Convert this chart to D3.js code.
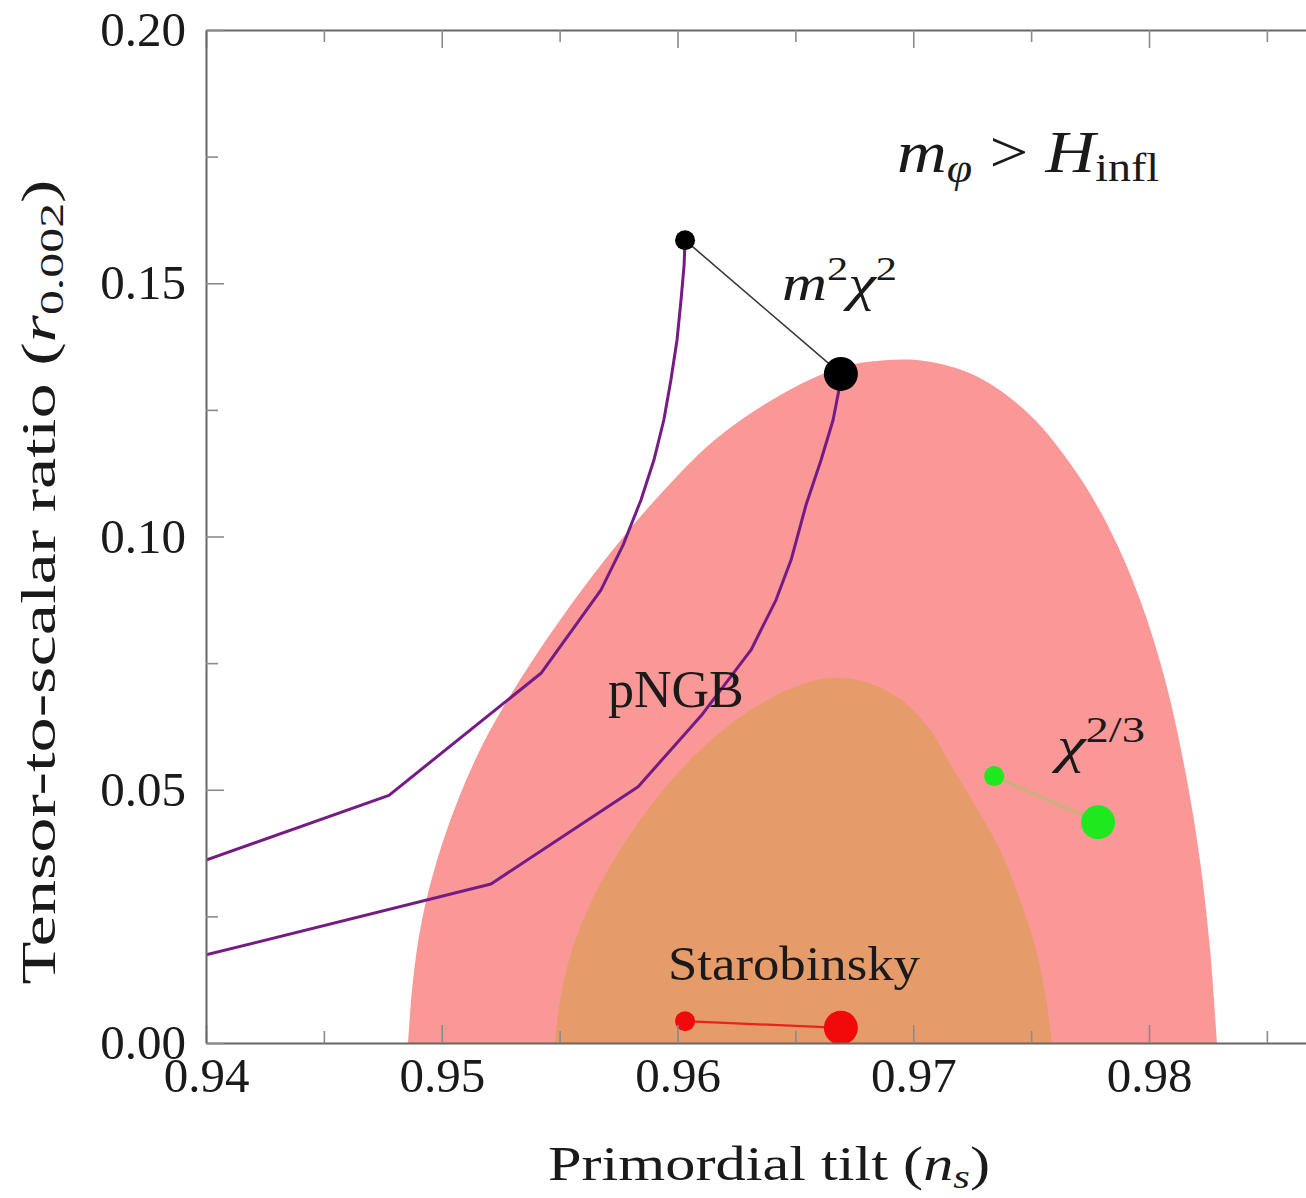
<html>

<head>
  <script src="https://d3js.org/d3.v7.min.js"></script>

  <style>
    body {
      margin: 0;
      background: #fff;
    }

    text {
      font-family: "Liberation Serif", "DejaVu Serif", serif;
      fill: #1a1a1a;
    }

    .axis .domain {
      stroke: #666;
      stroke-width: 2;
    }

    .axis line {
      stroke: #8a8a8a;
      stroke-width: 1.6;
    }

    .axis text {
      font-size: 49px;
    }
  </style>
</head>

<body>
  <svg id="chart" width="1306" height="1198"></svg>

  <script>
    // tick values
    const xTicks = [0.94, 0.95, 0.96, 0.97, 0.98];
    const xMinorTicks = [0.945, 0.955, 0.965, 0.975, 0.985];
    const yTicks = [0, 0.05, 0.10, 0.15, 0.20];
    const yMinorTicks = [0.025, 0.075, 0.125, 0.175];

    // 95% contour (pink), [n_s, r], traced along the boundary from bottom left to bottom right
    const contour95 = [
      [0.94857, 0], [0.94878, 0.0124], [0.94916, 0.0243], [0.94980, 0.0361],
      [0.95069, 0.0480], [0.95183, 0.0598], [0.95332, 0.0717], [0.95502, 0.0835],
      [0.95692, 0.0954], [0.95905, 0.1072], [0.96159, 0.1191], [0.96435, 0.1279],
      [0.96689, 0.1333], [0.96880, 0.1348], [0.97071, 0.1345], [0.97283, 0.1313],
      [0.97495, 0.1240], [0.97686, 0.1131], [0.97835, 0.1013], [0.97962, 0.0875],
      [0.98068, 0.0717], [0.98153, 0.0539], [0.98216, 0.0361], [0.98259, 0.0184],
      [0.98288, 0]
    ];

    // 68% contour (orange)
    const contour68 = [
      [0.95480, 0], [0.95502, 0.0085], [0.95553, 0.0184], [0.95637, 0.0282],
      [0.95756, 0.0381], [0.95905, 0.0480], [0.96095, 0.0578], [0.96308, 0.0657],
      [0.96520, 0.0707], [0.96668, 0.0721], [0.96817, 0.0710], [0.96965, 0.0672],
      [0.97071, 0.0619], [0.97164, 0.0545], [0.97262, 0.0470], [0.97368, 0.0381],
      [0.97453, 0.0282], [0.97521, 0.0184], [0.97564, 0.0085], [0.97589, 0]
    ];

    // pNGB curves
    const pngbLeft = [
      [0.94, 0.0361], [0.94776, 0.0489], [0.95421, 0.0730], [0.95675, 0.0894],
      [0.95769, 0.0983], [0.95845, 0.1072], [0.95900, 0.1151], [0.95942, 0.1230],
      [0.95972, 0.1309], [0.95998, 0.1388], [0.96015, 0.1467], [0.96028, 0.1536],
      [0.96032, 0.1585]
    ];
    const pngbRight = [
      [0.94, 0.0174], [0.95209, 0.0314], [0.95833, 0.0506], [0.96100, 0.0646],
      [0.96312, 0.0776], [0.96418, 0.0875], [0.96482, 0.0954], [0.96545, 0.1062],
      [0.96609, 0.1151], [0.96660, 0.1230], [0.96685, 0.1290], [0.96693, 0.1321]
    ];

    // model predictions: [small e-folds point, large e-folds point]
    const m2chi2 = [[0.96032, 0.1585], [0.96693, 0.1321]];
    const chi23 = [[0.97343, 0.0527], [0.97784, 0.0436]];
    const starobinsky = [[0.96032, 0.0043], [0.96693, 0.0030]];

    const svg = d3.select("svg#chart");
    const margin = { top: 30, left: 206, bottom: 155 };
    const chartHeight = 1198 - margin.top - margin.bottom;

    const xScale = d3.scaleLinear()
      .domain([0.94, 0.99])
      .range([margin.left, margin.left + 5 * 235.75]);

    const yScale = d3.scaleLinear()
      .domain([0, 0.20])
      .range([margin.top + chartHeight, margin.top]);

    svg.append("clipPath").attr("id", "plotClip")
      .append("rect")
      .attr("x", xScale(0.94))
      .attr("y", yScale(0.20))
      .attr("width", xScale(0.99) - xScale(0.94))
      .attr("height", yScale(0) - yScale(0.20));

    let plot = svg.append("g").attr("clip-path", "url(#plotClip)");

    const areaLine = d3.line()
      .x(d => xScale(d[0]))
      .y(d => yScale(d[1]))
      .curve(d3.curveCatmullRom.alpha(0.5));

    plot.append("path")
      .attr("d", areaLine(contour95) + "Z")
      .attr("fill", "#f99896");

    plot.append("path")
      .attr("d", areaLine(contour68) + "Z")
      .attr("fill", "#e69c6a");

    const straight = d3.line()
      .x(d => xScale(d[0]))
      .y(d => yScale(d[1]));

    [pngbLeft, pngbRight].forEach(pts => {
      plot.append("path")
        .attr("d", straight(pts))
        .attr("fill", "none")
        .attr("stroke", "#761b86")
        .attr("stroke-width", 3)
        .attr("stroke-linejoin", "round");
    });

    const models = [
      { pts: m2chi2, dot: "#000", line: "#3a3a3a", width: 1.6 },
      { pts: chi23, dot: "#1ee81e", line: "#c9b27a", width: 3 },
      { pts: starobinsky, dot: "#f20a0a", line: "#e8241e", width: 2.2 }
    ];

    models.forEach(m => {
      plot.append("path")
        .attr("d", straight(m.pts))
        .attr("fill", "none")
        .attr("stroke", m.line)
        .attr("stroke-width", m.width);

      plot.selectAll(null)
        .data(m.pts)
        .enter().append("circle")
        .attr("cx", d => xScale(d[0]))
        .attr("cy", d => yScale(d[1]))
        .attr("r", (d, i) => i === 0 ? 10 : 17)
        .attr("fill", m.dot);
    });

    // axes, ticks pointing inwards
    let bottomAxis = d3.axisBottom(xScale)
      .tickValues(xTicks)
      .tickFormat(d3.format(".2f"))
      .tickSizeInner(-18)
      .tickSizeOuter(0)
      .tickPadding(14);
    svg.append("g")
      .attr("class", "axis")
      .attr("transform", `translate(0,${yScale(0)})`)
      .call(bottomAxis);

    svg.append("g")
      .attr("class", "axis")
      .attr("transform", `translate(0,${yScale(0)})`)
      .call(d3.axisBottom(xScale).tickValues(xMinorTicks).tickFormat("").tickSizeInner(-12).tickSizeOuter(0))
      .select(".domain").remove();

    svg.append("g")
      .attr("class", "axis")
      .attr("transform", `translate(0,${yScale(0.20)})`)
      .call(d3.axisTop(xScale).tickValues(xTicks).tickFormat("").tickSizeInner(-18).tickSizeOuter(0));

    svg.append("g")
      .attr("class", "axis")
      .attr("transform", `translate(0,${yScale(0.20)})`)
      .call(d3.axisTop(xScale).tickValues(xMinorTicks).tickFormat("").tickSizeInner(-12).tickSizeOuter(0))
      .select(".domain").remove();

    let leftAxis = d3.axisLeft(yScale)
      .tickValues(yTicks)
      .tickFormat(d3.format(".2f"))
      .tickSizeInner(-18)
      .tickSizeOuter(0)
      .tickPadding(20);
    svg.append("g")
      .attr("class", "axis")
      .attr("transform", `translate(${xScale(0.94)},0)`)
      .call(leftAxis);

    svg.append("g")
      .attr("class", "axis")
      .attr("transform", `translate(${xScale(0.94)},0)`)
      .call(d3.axisLeft(yScale).tickValues(yMinorTicks).tickFormat("").tickSizeInner(-12).tickSizeOuter(0))
      .select(".domain").remove();

    // axis titles
    const xTitle = svg.append("text")
      .attr("x", 769)
      .attr("y", 1180)
      .attr("text-anchor", "middle")
      .attr("textLength", 442)
      .attr("lengthAdjust", "spacingAndGlyphs")
      .style("font-size", "48px");
    xTitle.append("tspan").text("Primordial tilt (");
    xTitle.append("tspan").style("font-style", "italic").text("n");
    xTitle.append("tspan").attr("dy", 8).style("font-size", "34px").style("font-style", "italic").text("s");
    xTitle.append("tspan").attr("dy", -8).text(")");

    const yTitle = svg.append("text")
      .attr("transform", "translate(55,582) rotate(-90)")
      .attr("text-anchor", "middle")
      .attr("textLength", 805)
      .attr("lengthAdjust", "spacingAndGlyphs")
      .style("font-size", "48px");
    yTitle.append("tspan").text("Tensor-to-scalar ratio (");
    yTitle.append("tspan").style("font-style", "italic").text("r");
    yTitle.append("tspan").attr("dy", 8).style("font-size", "34px").text("0.002");
    yTitle.append("tspan").attr("dy", -8).text(")");

    // annotations
    const regime = svg.append("text")
      .attr("x", 897)
      .attr("y", 172)
      .attr("textLength", 262)
      .attr("lengthAdjust", "spacingAndGlyphs")
      .style("font-size", "60px");
    regime.append("tspan").style("font-style", "italic").text("m");
    regime.append("tspan").attr("dy", 10).style("font-size", "40px").style("font-style", "italic").text("φ");
    regime.append("tspan").attr("dy", -10).text(" > ");
    regime.append("tspan").style("font-style", "italic").text("H");
    regime.append("tspan").attr("dy", 9).style("font-size", "40px").text("infl");

    const m2label = svg.append("text")
      .attr("x", 782)
      .attr("y", 300)
      .attr("textLength", 115)
      .attr("lengthAdjust", "spacingAndGlyphs")
      .style("font-size", "50px");
    m2label.append("tspan").style("font-style", "italic").text("m");
    m2label.append("tspan").attr("dy", -20).style("font-size", "34px").text("2");
    m2label.append("tspan").attr("dy", 20).style("font-style", "italic").text("χ");
    m2label.append("tspan").attr("dy", -20).style("font-size", "34px").text("2");

    svg.append("text")
      .attr("x", 608)
      .attr("y", 707)
      .style("font-size", "52px")
      .text("pNGB");

    const chiLabel = svg.append("text")
      .attr("x", 1057)
      .attr("y", 762)
      .attr("textLength", 88)
      .attr("lengthAdjust", "spacingAndGlyphs")
      .style("font-size", "50px");
    chiLabel.append("tspan").style("font-style", "italic").text("χ");
    chiLabel.append("tspan").attr("dy", -20).style("font-size", "36px").text("2/3");

    svg.append("text")
      .attr("x", 668)
      .attr("y", 980)
      .attr("textLength", 252)
      .attr("lengthAdjust", "spacingAndGlyphs")
      .style("font-size", "48px")
      .text("Starobinsky");
  </script>

</body>

</html>
